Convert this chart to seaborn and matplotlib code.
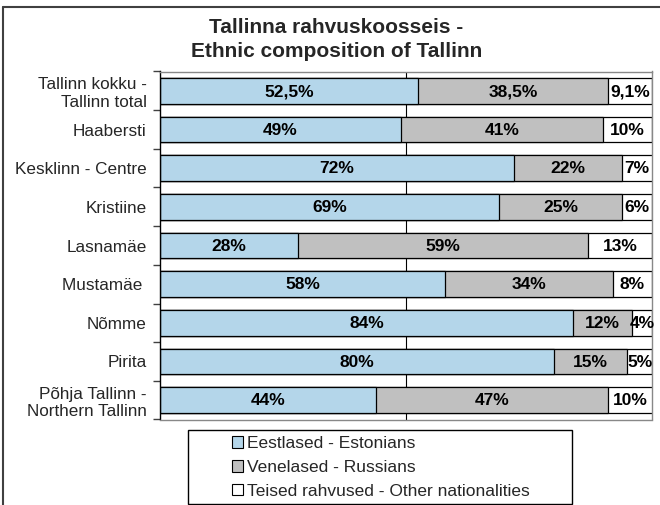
import pandas as pd
import numpy as np
import matplotlib
matplotlib.use("Agg")
import matplotlib.pyplot as plt
import seaborn as sns
from matplotlib.patches import Rectangle, Patch
from matplotlib.lines import Line2D

# ===============================
# DATOS
# ===============================

linnaosad = ["Tallinn kokku -\nTallinn total", "Haabersti", "Kesklinn - Centre", "Kristiine",
             "Lasnamäe", "Mustamäe ", "Nõmme", "Pirita", "Põhja Tallinn -\nNorthern Tallinn"]
eestlased = [52.5, 49, 72, 69, 28, 58, 84, 80, 44]
venelased = [38.5, 41, 22, 25, 59, 34, 12, 15, 47]
teised = [9.1, 10, 7, 6, 13, 8, 4, 5, 10]

seeria_nimed = ["Eestlased - Estonians", "Venelased - Russians", "Teised rahvused - Other nationalities"]
varvid = ["#B4D6EA", "#C0C0C0", "#FFFFFF"]

df = pd.DataFrame({"linnaosa": linnaosad, "est": eestlased, "rus": venelased, "oth": teised})
df["est_rus"] = df["est"] + df["rus"]
df["kokku"] = df["est_rus"] + df["oth"]

sns.set_theme(style="white")
plt.rcParams["font.family"] = ["Liberation Sans", "DejaVu Sans"]

fig = plt.figure(figsize=(6.6, 5.05), dpi=100)
ax = fig.add_axes([160 / 660, 1 - 419.5 / 505, 492 / 660, 348 / 505])

# stacked bars: draw totals first, then overlap
ax.axvline(50, color="black", lw=0.8, zorder=0)
sns.barplot(data=df, x="kokku", y="linnaosa", color=varvid[2], saturation=1,
            edgecolor="black", linewidth=0.9, width=0.66, ax=ax, zorder=2)
sns.barplot(data=df, x="est_rus", y="linnaosa", color=varvid[1], saturation=1,
            edgecolor="black", linewidth=0.9, width=0.66, ax=ax, zorder=2)
sns.barplot(data=df, x="est", y="linnaosa", color=varvid[0], saturation=1,
            edgecolor="black", linewidth=0.9, width=0.66, ax=ax, zorder=2)

ax.set_xlim(0, 100)
ax.set_ylim(len(linnaosad) - 0.5, -0.5)


def silt(v):
    if float(v).is_integer():
        return f"{int(v)}%"
    return f"{v:.1f}%".replace(".", ",")


for i, row in df.iterrows():
    osad = [(0, row["est"], row["est"]), (row["est"], row["est_rus"], row["rus"]),
            (row["est_rus"], row["kokku"], row["oth"])]
    for alg, lopp, v in osad:
        xc = (alg + min(lopp, 100)) / 2
        ax.text(xc, i + 0.02, silt(v), ha="center", va="center", fontsize=12.5,
                fontweight="bold", color="black", zorder=5)

ax.set_xlabel("")
ax.set_ylabel("")
ax.set_xticks([])
ax.tick_params(axis="y", which="major", length=0, pad=9.5, labelsize=12.3)
ax.set_yticks(np.arange(-0.5, len(linnaosad), 1), minor=True)
ax.tick_params(axis="y", which="minor", length=5, width=1, direction="out", color="#404040", left=True)
for lab in ax.get_yticklabels():
    lab.set_linespacing(1.2)
    lab.set_multialignment("right")

for s in ["top", "right", "bottom"]:
    ax.spines[s].set_color("#888888")
    ax.spines[s].set_linewidth(1)
ax.spines["left"].set_color("black")
ax.spines["left"].set_linewidth(1)

# pealkiri
fig.text(0.51, 1 - 33 / 505, "Tallinna rahvuskoosseis -", ha="center", va="baseline",
         fontsize=15, fontweight="bold")
fig.text(0.51, 1 - 57 / 505, "Ethnic composition of Tallinn", ha="center", va="baseline",
         fontsize=15, fontweight="bold")

# legend
kastid = [Patch(facecolor=c, edgecolor="black", linewidth=0.8) for c in varvid]
fig.legend(kastid, seeria_nimed, loc="center", bbox_to_anchor=(381 / 660, 1 - 467.5 / 505),
           frameon=False, fontsize=12.5, handlelength=0.65, handleheight=0.65,
           handletextpad=0.25, labelspacing=0.5, borderpad=0)
fig.add_artist(Rectangle((188 / 660, 1 - 504 / 505), (572 - 188) / 660, (504 - 430) / 505,
                         transform=fig.transFigure, fill=False, edgecolor="black", linewidth=1))

# raam
fig.add_artist(Line2D([3 / 660, 1], [1 - 7 / 505, 1 - 7 / 505], transform=fig.transFigure,
                      color="#404040", linewidth=1.5))
fig.add_artist(Line2D([3 / 660, 3 / 660], [1 - 7 / 505, 0], transform=fig.transFigure,
                      color="#404040", linewidth=1.5))

fig.savefig("out.png", dpi=100)
